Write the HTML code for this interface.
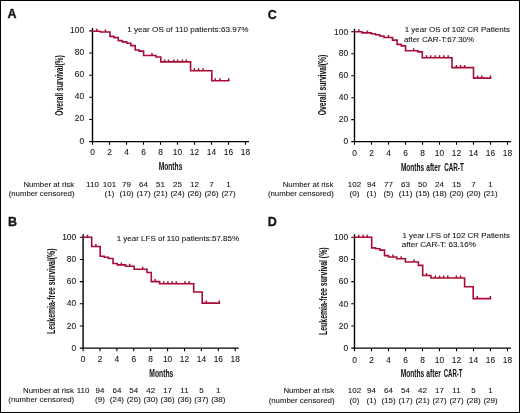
<!DOCTYPE html>
<html><head><meta charset="utf-8"><style>
html,body{margin:0;padding:0;background:#fff;}
#f{position:relative;width:520px;height:413px;overflow:hidden;}
#b{position:absolute;left:0;top:0;width:518px;height:411px;border:1px solid #000;}
svg{position:absolute;left:0;top:0;will-change:transform;}
text{font-family:"Liberation Sans", sans-serif;fill:#141414;stroke:#141414;stroke-width:0.08px;}
.tt{stroke-width:0.05px;}
</style></head><body><div id="f"><div id="b"></div>
<svg width="520" height="413" viewBox="0 0 520 413">
<text transform="translate(7.6 18.4) scale(0.92 1)" font-size="13.6" font-weight="bold" style="stroke-width:0.35px">A</text>
<path d="M92.5 27.9V141.6H249" fill="none" stroke="#000" stroke-width="1.4"/>
<path d="M89.2 141.6H92.5M89.2 119.46H92.5M89.2 97.32H92.5M89.2 75.18H92.5M89.2 53.04H92.5M89.2 30.9H92.5M92.5 141.6V144.8M109.5 141.6V144.8M126.5 141.6V144.8M143.5 141.6V144.8M160.5 141.6V144.8M177.5 141.6V144.8M194.5 141.6V144.8M211.5 141.6V144.8M228.5 141.6V144.8M245.5 141.6V144.8" fill="none" stroke="#000" stroke-width="1.1"/>
<text x="84.1" y="143.5" font-size="8.4" text-anchor="end">0</text>
<text x="84.1" y="121.36" font-size="8.4" text-anchor="end">20</text>
<text x="84.1" y="99.22" font-size="8.4" text-anchor="end">40</text>
<text x="84.1" y="77.08" font-size="8.4" text-anchor="end">60</text>
<text x="84.1" y="54.94" font-size="8.4" text-anchor="end">80</text>
<text x="84.1" y="32.8" font-size="8.4" text-anchor="end">100</text>
<text x="92.5" y="154.7" font-size="8.4" text-anchor="middle">0</text>
<text x="109.5" y="154.7" font-size="8.4" text-anchor="middle">2</text>
<text x="126.5" y="154.7" font-size="8.4" text-anchor="middle">4</text>
<text x="143.5" y="154.7" font-size="8.4" text-anchor="middle">6</text>
<text x="160.5" y="154.7" font-size="8.4" text-anchor="middle">8</text>
<text x="177.5" y="154.7" font-size="8.4" text-anchor="middle">10</text>
<text x="194.5" y="154.7" font-size="8.4" text-anchor="middle">12</text>
<text x="211.5" y="154.7" font-size="8.4" text-anchor="middle">14</text>
<text x="228.5" y="154.7" font-size="8.4" text-anchor="middle">16</text>
<text x="245.5" y="154.7" font-size="8.4" text-anchor="middle">18</text>
<text transform="translate(62.7 85.4) rotate(-90) scale(0.641 1)" x="0" y="0" font-size="10.5" text-anchor="middle" font-weight="bold" class="tt">Overall survival(%)</text>
<text transform="translate(170.5 169.5) scale(0.635 1)" x="0" y="0" font-size="10.5" text-anchor="middle" font-weight="bold" class="tt">Months</text>
<text x="127.29" y="32.2" font-size="8.12">1 year OS of 110 patients:63.97%</text>
<text x="74.1" y="186.6" font-size="7.8" text-anchor="end">Number at risk</text>
<text x="74.5" y="195.9" font-size="7.8" text-anchor="end">(number censored)</text>
<text x="92.5" y="186.6" font-size="8.0" text-anchor="middle">110</text>
<text x="109.5" y="186.6" font-size="8.0" text-anchor="middle">101</text>
<text x="109.5" y="195.9" font-size="8.0" text-anchor="middle">(1)</text>
<text x="126.5" y="186.6" font-size="8.0" text-anchor="middle">79</text>
<text x="126.5" y="195.9" font-size="8.0" text-anchor="middle">(10)</text>
<text x="143.5" y="186.6" font-size="8.0" text-anchor="middle">64</text>
<text x="143.5" y="195.9" font-size="8.0" text-anchor="middle">(17)</text>
<text x="160.5" y="186.6" font-size="8.0" text-anchor="middle">51</text>
<text x="160.5" y="195.9" font-size="8.0" text-anchor="middle">(21)</text>
<text x="177.5" y="186.6" font-size="8.0" text-anchor="middle">25</text>
<text x="177.5" y="195.9" font-size="8.0" text-anchor="middle">(24)</text>
<text x="194.5" y="186.6" font-size="8.0" text-anchor="middle">12</text>
<text x="194.5" y="195.9" font-size="8.0" text-anchor="middle">(26)</text>
<text x="211.5" y="186.6" font-size="8.0" text-anchor="middle">7</text>
<text x="211.5" y="195.9" font-size="8.0" text-anchor="middle">(26)</text>
<text x="228.5" y="186.6" font-size="8.0" text-anchor="middle">1</text>
<text x="228.5" y="195.9" font-size="8.0" text-anchor="middle">(27)</text>
<path d="M92.5 31.3H100.4V32H110V36.4H114V37.6H118.3V40.6H122.3V41.9H126.7V43.2H130.8V45.6H135.2V50H139.2V51.1H143.6V55.5H156V57H160.8V61.9H190.6V70.8H211.8V80.7H228.7" fill="none" stroke="#a80c34" stroke-width="1.6" stroke-linejoin="miter" stroke-linecap="square"/>
<path d="M96.8 31.3v-2.5M105.4 32v-2.5M152 55.5v-2.5M164.6 61.9v-2.5M168.5 61.9v-2.5M173.8 61.9v-2.5M177.6 61.9v-2.5M182.4 61.9v-2.5M186.3 61.9v-2.5M194.4 70.8v-2.5M198.6 70.8v-2.5M203 70.8v-2.5M215.2 80.7v-2.5M219.8 80.7v-2.5M228.7 80.7v-2.5" fill="none" stroke="#a80c34" stroke-width="1.5"/>
<text transform="translate(7.9 225.8) scale(0.92 1)" font-size="13.6" font-weight="bold" style="stroke-width:0.35px">B</text>
<path d="M83.1 234.3V348.1H238.7" fill="none" stroke="#000" stroke-width="1.4"/>
<path d="M79.8 348.1H83.1M79.8 325.94H83.1M79.8 303.78H83.1M79.8 281.62H83.1M79.8 259.46H83.1M79.8 237.3H83.1M83.1 348.1V351.3M100 348.1V351.3M116.9 348.1V351.3M133.8 348.1V351.3M150.7 348.1V351.3M167.6 348.1V351.3M184.5 348.1V351.3M201.4 348.1V351.3M218.3 348.1V351.3M235.2 348.1V351.3" fill="none" stroke="#000" stroke-width="1.1"/>
<text x="76.2" y="350.8" font-size="8.4" text-anchor="end">0</text>
<text x="76.2" y="328.64" font-size="8.4" text-anchor="end">20</text>
<text x="76.2" y="306.48" font-size="8.4" text-anchor="end">40</text>
<text x="76.2" y="284.32" font-size="8.4" text-anchor="end">60</text>
<text x="76.2" y="262.16" font-size="8.4" text-anchor="end">80</text>
<text x="76.2" y="240" font-size="8.4" text-anchor="end">100</text>
<text x="83.1" y="362.3" font-size="8.4" text-anchor="middle">0</text>
<text x="100" y="362.3" font-size="8.4" text-anchor="middle">2</text>
<text x="116.9" y="362.3" font-size="8.4" text-anchor="middle">4</text>
<text x="133.8" y="362.3" font-size="8.4" text-anchor="middle">6</text>
<text x="150.7" y="362.3" font-size="8.4" text-anchor="middle">8</text>
<text x="167.6" y="362.3" font-size="8.4" text-anchor="middle">10</text>
<text x="184.5" y="362.3" font-size="8.4" text-anchor="middle">12</text>
<text x="201.4" y="362.3" font-size="8.4" text-anchor="middle">14</text>
<text x="218.3" y="362.3" font-size="8.4" text-anchor="middle">16</text>
<text x="235.2" y="362.3" font-size="8.4" text-anchor="middle">18</text>
<text transform="translate(54.7 291.2) rotate(-90) scale(0.658 1)" x="0" y="0" font-size="10.5" text-anchor="middle" font-weight="bold" class="tt">Leukemia-free survival(%)</text>
<text transform="translate(161.3 376.7) scale(0.643 1)" x="0" y="0" font-size="10.5" text-anchor="middle" font-weight="bold" class="tt">Months</text>
<text x="116.7" y="240.8" font-size="7.99">1 year LFS of 110 patients:57.85%</text>
<text x="73.8" y="393.1" font-size="7.8" text-anchor="end">Number at risk</text>
<text x="74.2" y="402.3" font-size="7.8" text-anchor="end">(number censored)</text>
<text x="83.1" y="393.1" font-size="8.0" text-anchor="middle">110</text>
<text x="100" y="393.1" font-size="8.0" text-anchor="middle">94</text>
<text x="100" y="402.3" font-size="8.0" text-anchor="middle">(9)</text>
<text x="116.9" y="393.1" font-size="8.0" text-anchor="middle">64</text>
<text x="116.9" y="402.3" font-size="8.0" text-anchor="middle">(24)</text>
<text x="133.8" y="393.1" font-size="8.0" text-anchor="middle">54</text>
<text x="133.8" y="402.3" font-size="8.0" text-anchor="middle">(26)</text>
<text x="150.7" y="393.1" font-size="8.0" text-anchor="middle">42</text>
<text x="150.7" y="402.3" font-size="8.0" text-anchor="middle">(30)</text>
<text x="167.6" y="393.1" font-size="8.0" text-anchor="middle">17</text>
<text x="167.6" y="402.3" font-size="8.0" text-anchor="middle">(36)</text>
<text x="184.5" y="393.1" font-size="8.0" text-anchor="middle">11</text>
<text x="184.5" y="402.3" font-size="8.0" text-anchor="middle">(36)</text>
<text x="201.4" y="393.1" font-size="8.0" text-anchor="middle">5</text>
<text x="201.4" y="402.3" font-size="8.0" text-anchor="middle">(37)</text>
<text x="218.3" y="393.1" font-size="8.0" text-anchor="middle">1</text>
<text x="218.3" y="402.3" font-size="8.0" text-anchor="middle">(38)</text>
<path d="M83.1 237.3H91.7V246.5H100.2V256.2H104.3V257.2H108.5V258.5H113V263.5H117.3V264.9H125.5V266.2H134.1V269.2H147V272.5H151.3V281.6H159.7V283.8H193.7V292H202.2V303.1H219.3" fill="none" stroke="#a80c34" stroke-width="1.6" stroke-linejoin="miter" stroke-linecap="square"/>
<path d="M87.5 237.3v-2.5M95.9 246.5v-2.5M121.3 264.9v-2.5M129.8 266.2v-2.5M142.7 269.2v-2.5M155.2 281.6v-2.5M163.6 283.8v-2.5M167.9 283.8v-2.5M172.2 283.8v-2.5M176.3 283.8v-2.5M185 283.8v-2.5M189.2 283.8v-2.5M206.3 303.1v-2.5M219.3 303.1v-2.5" fill="none" stroke="#a80c34" stroke-width="1.5"/>
<text transform="translate(267.8 18.8) scale(0.92 1)" font-size="13.6" font-weight="bold" style="stroke-width:0.35px">C</text>
<path d="M354.5 28.8V141.6H511" fill="none" stroke="#000" stroke-width="1.4"/>
<path d="M351.2 141.6H354.5M351.2 119.64H354.5M351.2 97.68H354.5M351.2 75.72H354.5M351.2 53.76H354.5M351.2 31.8H354.5M354.5 141.6V144.8M371.5 141.6V144.8M388.5 141.6V144.8M405.5 141.6V144.8M422.5 141.6V144.8M439.5 141.6V144.8M456.5 141.6V144.8M473.5 141.6V144.8M490.5 141.6V144.8M507.5 141.6V144.8" fill="none" stroke="#000" stroke-width="1.1"/>
<text x="348.1" y="144.3" font-size="8.4" text-anchor="end">0</text>
<text x="348.1" y="122.34" font-size="8.4" text-anchor="end">20</text>
<text x="348.1" y="100.38" font-size="8.4" text-anchor="end">40</text>
<text x="348.1" y="78.42" font-size="8.4" text-anchor="end">60</text>
<text x="348.1" y="56.46" font-size="8.4" text-anchor="end">80</text>
<text x="348.1" y="34.5" font-size="8.4" text-anchor="end">100</text>
<text x="354.5" y="155.6" font-size="8.4" text-anchor="middle">0</text>
<text x="371.5" y="155.6" font-size="8.4" text-anchor="middle">2</text>
<text x="388.5" y="155.6" font-size="8.4" text-anchor="middle">4</text>
<text x="405.5" y="155.6" font-size="8.4" text-anchor="middle">6</text>
<text x="422.5" y="155.6" font-size="8.4" text-anchor="middle">8</text>
<text x="439.5" y="155.6" font-size="8.4" text-anchor="middle">10</text>
<text x="456.5" y="155.6" font-size="8.4" text-anchor="middle">12</text>
<text x="473.5" y="155.6" font-size="8.4" text-anchor="middle">14</text>
<text x="490.5" y="155.6" font-size="8.4" text-anchor="middle">16</text>
<text x="507.5" y="155.6" font-size="8.4" text-anchor="middle">18</text>
<text transform="translate(326.4 85) rotate(-90) scale(0.643 1)" x="0" y="0" font-size="10.5" text-anchor="middle" font-weight="bold" class="tt">Overall survival(%)</text>
<text transform="translate(400.88 170.6) scale(0.621 1)" x="0" y="0" font-size="10.5" font-weight="bold" class="tt">Months</text>
<text transform="translate(426.2 170.6) scale(0.632 1)" x="0" y="0" font-size="10.5" font-weight="bold" class="tt">after</text>
<text transform="translate(444.15 170.6) scale(0.604 1)" x="0" y="0" font-size="10.5" font-weight="bold" class="tt">CAR-T</text>
<text x="404.7" y="32.3" font-size="7.99">1 year OS of 102 CR Patients</text>
<text x="403.98" y="41.9" font-size="7.88">after CAR-T:67.30%</text>
<text x="333.4" y="186.5" font-size="7.8" text-anchor="end">Number at risk</text>
<text x="333.8" y="195.8" font-size="7.8" text-anchor="end">(number censored)</text>
<text x="354.5" y="186.5" font-size="8.0" text-anchor="middle">102</text>
<text x="354.5" y="195.8" font-size="8.0" text-anchor="middle">(0)</text>
<text x="371.5" y="186.5" font-size="8.0" text-anchor="middle">94</text>
<text x="371.5" y="195.8" font-size="8.0" text-anchor="middle">(1)</text>
<text x="388.5" y="186.5" font-size="8.0" text-anchor="middle">77</text>
<text x="388.5" y="195.8" font-size="8.0" text-anchor="middle">(5)</text>
<text x="405.5" y="186.5" font-size="8.0" text-anchor="middle">63</text>
<text x="405.5" y="195.8" font-size="8.0" text-anchor="middle">(11)</text>
<text x="422.5" y="186.5" font-size="8.0" text-anchor="middle">50</text>
<text x="422.5" y="195.8" font-size="8.0" text-anchor="middle">(15)</text>
<text x="439.5" y="186.5" font-size="8.0" text-anchor="middle">24</text>
<text x="439.5" y="195.8" font-size="8.0" text-anchor="middle">(18)</text>
<text x="456.5" y="186.5" font-size="8.0" text-anchor="middle">15</text>
<text x="456.5" y="195.8" font-size="8.0" text-anchor="middle">(20)</text>
<text x="473.5" y="186.5" font-size="8.0" text-anchor="middle">7</text>
<text x="473.5" y="195.8" font-size="8.0" text-anchor="middle">(20)</text>
<text x="490.5" y="186.5" font-size="8.0" text-anchor="middle">1</text>
<text x="490.5" y="195.8" font-size="8.0" text-anchor="middle">(21)</text>
<path d="M354.5 31.8H362V32.9H371.2V33.7H375.5V34.8H379.7V36H384V37.5H392.5V40.1H397.1V44.4H401.3V45.9H405.5V50.7H418V51.9H422.3V57.8H452V67.6H473.5V78.1H490.5" fill="none" stroke="#a80c34" stroke-width="1.6" stroke-linejoin="miter" stroke-linecap="square"/>
<path d="M358.9 31.8v-2.5M367.4 32.9v-2.5M388.5 37.5v-2.5M413.7 50.7v-2.5M426.5 57.8v-2.5M430.7 57.8v-2.5M435.2 57.8v-2.5M439.5 57.8v-2.5M443.8 57.8v-2.5M448.2 57.8v-2.5M456.4 67.6v-2.5M460.6 67.6v-2.5M464.6 67.6v-2.5M477.6 78.1v-2.5M481.7 78.1v-2.5M490.5 78.1v-2.5" fill="none" stroke="#a80c34" stroke-width="1.5"/>
<text transform="translate(267.8 225.8) scale(0.92 1)" font-size="13.6" font-weight="bold" style="stroke-width:0.35px">D</text>
<path d="M354.5 234.3V348.1H511" fill="none" stroke="#000" stroke-width="1.4"/>
<path d="M351.2 348.1H354.5M351.2 325.94H354.5M351.2 303.78H354.5M351.2 281.62H354.5M351.2 259.46H354.5M351.2 237.3H354.5M354.5 348.1V351.3M371.5 348.1V351.3M388.5 348.1V351.3M405.5 348.1V351.3M422.5 348.1V351.3M439.5 348.1V351.3M456.5 348.1V351.3M473.5 348.1V351.3M490.5 348.1V351.3M507.5 348.1V351.3" fill="none" stroke="#000" stroke-width="1.1"/>
<text x="348.1" y="350.9" font-size="8.4" text-anchor="end">0</text>
<text x="348.1" y="328.74" font-size="8.4" text-anchor="end">20</text>
<text x="348.1" y="306.58" font-size="8.4" text-anchor="end">40</text>
<text x="348.1" y="284.42" font-size="8.4" text-anchor="end">60</text>
<text x="348.1" y="262.26" font-size="8.4" text-anchor="end">80</text>
<text x="348.1" y="240.1" font-size="8.4" text-anchor="end">100</text>
<text x="354.5" y="362.5" font-size="8.4" text-anchor="middle">0</text>
<text x="371.5" y="362.5" font-size="8.4" text-anchor="middle">2</text>
<text x="388.5" y="362.5" font-size="8.4" text-anchor="middle">4</text>
<text x="405.5" y="362.5" font-size="8.4" text-anchor="middle">6</text>
<text x="422.5" y="362.5" font-size="8.4" text-anchor="middle">8</text>
<text x="439.5" y="362.5" font-size="8.4" text-anchor="middle">10</text>
<text x="456.5" y="362.5" font-size="8.4" text-anchor="middle">12</text>
<text x="473.5" y="362.5" font-size="8.4" text-anchor="middle">14</text>
<text x="490.5" y="362.5" font-size="8.4" text-anchor="middle">16</text>
<text x="507.5" y="362.5" font-size="8.4" text-anchor="middle">18</text>
<text transform="translate(326.7 291.2) rotate(-90) scale(0.660 1)" x="0" y="0" font-size="10.5" text-anchor="middle" font-weight="bold" class="tt">Leukemia-free survival (%)</text>
<text transform="translate(400.67 376.8) scale(0.629 1)" x="0" y="0" font-size="10.5" font-weight="bold" class="tt">Months</text>
<text transform="translate(426.3 376.8) scale(0.636 1)" x="0" y="0" font-size="10.5" font-weight="bold" class="tt">after</text>
<text transform="translate(443.66 376.8) scale(0.579 1)" x="0" y="0" font-size="10.5" font-weight="bold" class="tt">CAR-T</text>
<text x="402.41" y="237.7" font-size="7.93">1 year LFS of 102 CR Patients</text>
<text x="401.78" y="247.2" font-size="8.11">after CAR-T: 63.16%</text>
<text x="334.1" y="393.3" font-size="7.8" text-anchor="end">Number at risk</text>
<text x="334.5" y="402.6" font-size="7.8" text-anchor="end">(number censored)</text>
<text x="354.5" y="393.3" font-size="8.0" text-anchor="middle">102</text>
<text x="354.5" y="402.6" font-size="8.0" text-anchor="middle">(0)</text>
<text x="371.5" y="393.3" font-size="8.0" text-anchor="middle">94</text>
<text x="371.5" y="402.6" font-size="8.0" text-anchor="middle">(1)</text>
<text x="388.5" y="393.3" font-size="8.0" text-anchor="middle">64</text>
<text x="388.5" y="402.6" font-size="8.0" text-anchor="middle">(15)</text>
<text x="405.5" y="393.3" font-size="8.0" text-anchor="middle">54</text>
<text x="405.5" y="402.6" font-size="8.0" text-anchor="middle">(17)</text>
<text x="422.5" y="393.3" font-size="8.0" text-anchor="middle">42</text>
<text x="422.5" y="402.6" font-size="8.0" text-anchor="middle">(21)</text>
<text x="439.5" y="393.3" font-size="8.0" text-anchor="middle">17</text>
<text x="439.5" y="402.6" font-size="8.0" text-anchor="middle">(27)</text>
<text x="456.5" y="393.3" font-size="8.0" text-anchor="middle">11</text>
<text x="456.5" y="402.6" font-size="8.0" text-anchor="middle">(27)</text>
<text x="473.5" y="393.3" font-size="8.0" text-anchor="middle">5</text>
<text x="473.5" y="402.6" font-size="8.0" text-anchor="middle">(28)</text>
<text x="490.5" y="393.3" font-size="8.0" text-anchor="middle">1</text>
<text x="490.5" y="402.6" font-size="8.0" text-anchor="middle">(29)</text>
<path d="M354.5 237.3H371.7V247.9H375.6V248.8H379.9V250.1H384.5V255.6H388.5V257H396.7V258.7H405.4V262H418.4V265.4H422.7V275.5H430.9V278H464.6V286.8H473.2V298.6H490.4" fill="none" stroke="#a80c34" stroke-width="1.6" stroke-linejoin="miter" stroke-linecap="square"/>
<path d="M358.7 237.3v-2.5M363.1 237.3v-2.5M367.4 237.3v-2.5M392.9 257v-2.5M401.1 258.7v-2.5M414 262v-2.5M426.5 275.5v-2.5M435.3 278v-2.5M439.6 278v-2.5M443.5 278v-2.5M447.8 278v-2.5M456.4 278v-2.5M460.6 278v-2.5M477.3 298.6v-2.5M490.4 298.6v-2.5" fill="none" stroke="#a80c34" stroke-width="1.5"/>
</svg></div></body></html>
